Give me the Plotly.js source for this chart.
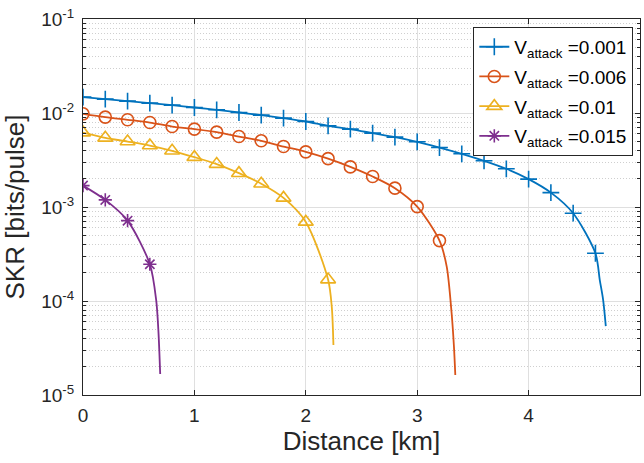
<!DOCTYPE html>
<html>
<head>
<meta charset="utf-8">
<script src="https://cdn.plot.ly/plotly-3.0.1.min.js"></script>
<style>html,body{margin:0;padding:0;background:#fff;}#chart{width:644px;height:463px;}</style>
</head>
<body>
<div id="chart"></div>
<script>
// ---- data ----
const seriesNames = ["V<sub>attack</sub> =0.001", "V<sub>attack</sub> =0.006", "V<sub>attack</sub> =0.01", "V<sub>attack</sub> =0.015"];

// V_attack = 0.001 (markers every 0.2 km)
const x001 = [0,0.2,0.4,0.6,0.8,1.0,1.2,1.4,1.6,1.8,2.0,2.2,2.4,2.6,2.8,3.0,3.2,3.4,3.6,3.8,4.0,4.2,4.4,4.6];
const y001 = [0.01477,0.01406,0.01339,0.01275,0.01214,0.01144,0.01082,0.01012,0.00950,0.00882,0.00812,0.00731,0.00674,0.00611,0.00554,0.00494,0.00429,0.00368,0.00310,0.00255,0.00198,0.001423,0.000859,0.000322];
// unmarked points along the steep end of the curve
const x001Tail = [4.639,4.669,4.693];
const y001Tail = [0.000167,0.000103,0.000054];

// V_attack = 0.006
const x006 = [0,0.2,0.4,0.6,0.8,1.0,1.2,1.4,1.6,1.8,2.0,2.2,2.4,2.6,2.8,3.0,3.2];
const y006 = [0.00980,0.00904,0.00847,0.00792,0.00718,0.00674,0.00626,0.00562,0.00506,0.00440,0.00386,0.00327,0.00267,0.00211,0.001586,0.00101,0.000439];
const x006Tail = [3.265,3.309,3.33,3.342];
const y006Tail = [0.000232,0.000074,0.0000326,0.0000163];

// V_attack = 0.01
const x01 = [0,0.2,0.4,0.6,0.8,1.0,1.2,1.4,1.6,1.8,2.0,2.2];
const y01 = [0.00618,0.00544,0.00497,0.00451,0.00396,0.00339,0.00286,0.00229,0.00177,0.00125,0.000694,0.000169];
const x01Tail = [2.233,2.248];
const y01Tail = [0.000087,0.000034];

// V_attack = 0.015
const x015 = [0,0.2,0.4,0.6];
const y015 = [0.00169,0.00119,0.000716,0.000246];
const x015Tail = [0.657,0.678,0.693];
const y015Tail = [0.000102,0.0000453,0.0000167];

const xTickVals = [0,1,2,3,4,5];
const yTickVals = [1e-5,1e-4,1e-3,1e-2,1e-1];
const yTickLabels = ["10<sup>-5</sup>","10<sup>-4</sup>","10<sup>-3</sup>","10<sup>-2</sup>","10<sup>-1</sup>"];

// ---- styling ----
const colors = ["#0072BD","#D95319","#EDB120","#7E2F8E"];
const symbols = ["cross-thin-open","circle-open","triangle-up-open","asterisk-open"];
const sizes = [12,12,13,11];
const groups = [[x001,y001,x001Tail,y001Tail],[x006,y006,x006Tail,y006Tail],[x01,y01,x01Tail,y01Tail],[x015,y015,x015Tail,y015Tail]];

const traces = groups.map((g,i)=>{
  const mcol = g[0].map(()=>colors[i]).concat(g[2].map(()=>"rgba(0,0,0,0)"));
  return {
    x: g[0].concat(g[2]), y: g[1].concat(g[3]), name: seriesNames[i],
    mode: "lines+markers", type: "scatter", legendgroup: "g"+i,
    line: {color: colors[i], width: 1.8, shape: "spline", smoothing: 0.8},
    marker: {symbol: symbols[i], size: sizes[i], color: mcol, line: {color: mcol, width: 1.6}}
  };
});

const fontFam = "Liberation Sans, Arial, Helvetica, sans-serif";
const layout = {
  width: 644, height: 463,
  margin: {l: 82.7, r: 4, t: 19.3, b: 68},
  paper_bgcolor: "#ffffff", plot_bgcolor: "#ffffff",
  font: {family: fontFam, color: "#262626", size: 19},
  showlegend: true,
  legend: {
    x: 0.988, xanchor: "right", y: 0.979, yanchor: "top",
    bordercolor: "#262626", borderwidth: 1, bgcolor: "#ffffff",
    font: {family: fontFam, size: 19, color: "#000000"},
    traceorder: "grouped", tracegroupgap: 2, itemwidth: 30
  },
  xaxis: {
    range: [0,5], tickmode: "array", tickvals: xTickVals,
    ticks: "inside", ticklen: 5, tickcolor: "#262626",
    showline: true, linecolor: "#262626", linewidth: 1, mirror: "ticks",
    showgrid: true, gridcolor: "#dfdfdf", gridwidth: 1, zeroline: false,
    tickfont: {size: 19, color: "#262626"}, ticklabelstandoff: 3,
    title: {text: "Distance [km]", font: {size: 26, color: "#262626"}, standoff: 4}
  },
  yaxis: {
    type: "log", range: [-5,-1], tickmode: "array", tickvals: yTickVals, ticktext: yTickLabels,
    ticks: "inside", ticklen: 5, tickcolor: "#262626",
    showline: true, linecolor: "#262626", linewidth: 1, mirror: "ticks",
    showgrid: true, gridcolor: "#dfdfdf", gridwidth: 1, zeroline: false,
    tickfont: {size: 19, color: "#262626"}, ticklabelstandoff: 4,
    minor: {dtick: "D1", ticks: "inside", ticklen: 3, tickcolor: "#262626", showgrid: true, gridcolor: "#cfcfcf", griddash: "1px,2px", gridwidth: 1},
    title: {text: "SKR [bits/pulse]", font: {size: 26, color: "#262626"}, standoff: 10}
  }
};

Plotly.newPlot("chart", traces, layout, {displayModeBar: false, staticPlot: true});
</script>
</body>
</html>
